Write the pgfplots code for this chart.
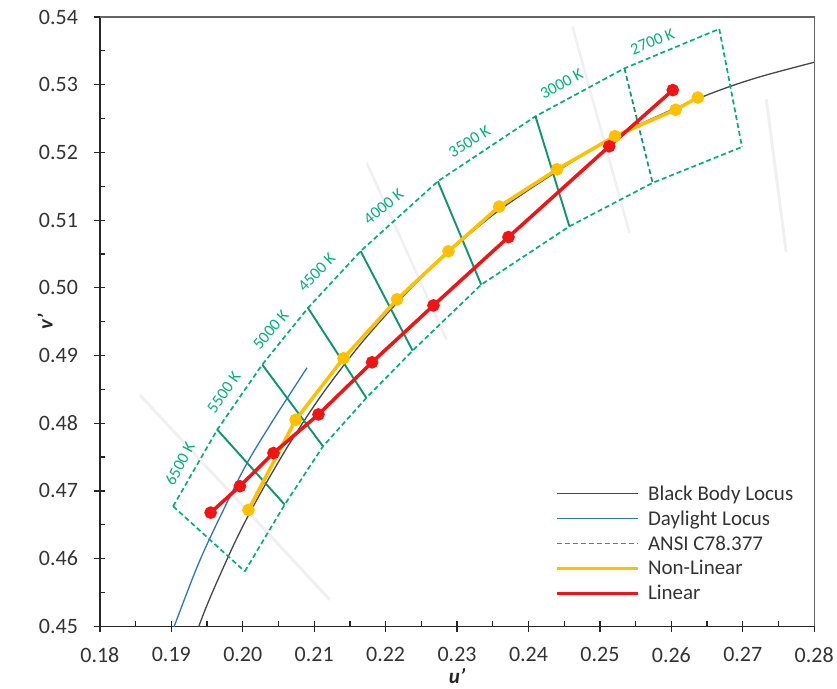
\documentclass[border=0pt]{standalone}
\usepackage{pgfplots}
\pgfplotsset{compat=1.18}
\usepackage{fontspec}
\setmainfont{Carlito}
\usetikzlibrary{calc}
\definecolor{ansi}{RGB}{0,176,122}
\definecolor{ansid}{RGB}{10,150,110}
\definecolor{bbl}{RGB}{70,70,70}
\definecolor{dayl}{RGB}{46,117,182}
\definecolor{nonlin}{RGB}{255,192,0}
\definecolor{lin}{RGB}{240,20,20}
\definecolor{frame}{RGB}{100,100,100}
\definecolor{faint}{RGB}{240,240,240}

\begin{document}
\begin{tikzpicture}
\begin{axis}[
  name=ax, scale only axis, width=715bp, height=610bp,
  xmin=0.18, xmax=0.28, ymin=0.45, ymax=0.54,
  axis x line*=bottom, axis y line*=left,
  axis line style={-, black!85, line width=1.2bp},
  xtick={0.18,0.19,0.20,0.21,0.22,0.23,0.24,0.25,0.26,0.27,0.28},
  ytick={0.45,0.46,0.47,0.48,0.49,0.50,0.51,0.52,0.53,0.54},
  extra x ticks={0.185,0.195,0.205,0.215,0.225,0.235,0.245,0.255,0.265,0.275},
  extra x tick labels={},
  extra x tick style={tick align=inside, major tick length=5bp},
  extra y ticks={0.455,0.465,0.475,0.485,0.495,0.505,0.515,0.525,0.535},
  extra y tick labels={},
  extra y tick style={tick align=inside, major tick length=5bp},
  tick align=center, major tick length=11bp,
  tick style={black!85, line width=1.2bp},
  /pgf/number format/assume math mode=true,
  xticklabel={\pgfmathprintnumber[fixed, fixed zerofill, precision=2]{\tick}},
  yticklabel={\pgfmathprintnumber[fixed, fixed zerofill, precision=2]{\tick}},
  tick label style={font=\fontsize{22bp}{26bp}\selectfont, text=black!80},
  xticklabel style={yshift=-12bp},
  yticklabel style={xshift=-13bp},
  legend style={
    at={(rel axis cs:0.6378,0.233)}, anchor=north west,
    draw=none, fill=none,
    font=\fontsize{21bp}{24bp}\selectfont,
    row sep=7bp, column sep=7bp, inner sep=0pt,
    nodes={inner sep=1bp, text=black!80},
  },
  legend cell align=left,
  legend image code/.code={\draw[#1] (0bp,0bp) -- (81bp,0bp);},
]
% faint background iso-temperature streaks
\addplot[faint, line width=3bp, forget plot] coordinates {(0.18559,0.48419) (0.21217,0.45394)};
\addplot[faint, line width=2.5bp, forget plot] coordinates {(0.21734,0.51849) (0.22853,0.49235)};
\addplot[faint, line width=2.5bp, forget plot] coordinates {(0.24615,0.53858) (0.25413,0.50815)};
\addplot[faint, line width=3bp, forget plot] coordinates {(0.27329,0.52785) (0.27608,0.50524)};
% Black body locus
\addplot[bbl, line width=1.3bp, smooth] coordinates {
 (0.1904,0.4399) (0.1946,0.4521) (0.1981,0.4606) (0.2004,0.4656) (0.2033,0.4712)
 (0.2069,0.4776) (0.2114,0.4847) (0.2173,0.4927) (0.2251,0.5016) (0.2357,0.5113)
 (0.2505,0.5214) (0.2625,0.5274) (0.2722,0.5311) (0.2885,0.5356) };
\addlegendentry{Black Body Locus}
% Daylight locus
\addplot[dayl, line width=1.3bp, smooth] coordinates {
 (0.18755,0.44193) (0.1935,0.4585) (0.1978,0.4683) (0.2007,0.4743) (0.2044,0.4807) (0.2090,0.4882) };
\addlegendentry{Daylight Locus}
% ANSI C78.377 quadrangles
\addplot[ansi, line width=1.7bp, dash pattern=on 5bp off 3bp] coordinates {
 (0.19025,0.46773) (0.19643,0.47905) (0.20273,0.48866) (0.20913,0.49703) (0.21650,0.50542)
 (0.22731,0.51573) (0.24098,0.52533) (0.25343,0.53241) (0.26671,0.53824) };
\addlegendentry{ANSI C78.377}
\addplot[ansi, line width=1.7bp, dash pattern=on 5bp off 3bp, forget plot] coordinates {
 (0.20028,0.45812) (0.20587,0.46798) (0.21123,0.47659) (0.21730,0.48374) (0.22378,0.49072)
 (0.23338,0.50047) (0.24573,0.50908) (0.25738,0.51550) (0.26989,0.52081) };
\addplot[ansi, line width=1.7bp, dash pattern=on 5bp off 3bp, forget plot] coordinates {(0.19025,0.46773) (0.20028,0.45812)};
\addplot[ansid, line width=1.9bp, forget plot] coordinates {(0.19643,0.47905) (0.20587,0.46798)};
\addplot[ansid, line width=1.9bp, forget plot] coordinates {(0.20273,0.48866) (0.21123,0.47659)};
\addplot[ansid, line width=1.9bp, forget plot] coordinates {(0.20913,0.49703) (0.21730,0.48374)};
\addplot[ansid, line width=1.9bp, forget plot] coordinates {(0.21650,0.50542) (0.22378,0.49072)};
\addplot[ansid, line width=1.9bp, forget plot] coordinates {(0.22731,0.51573) (0.23338,0.50047)};
\addplot[ansid, line width=1.9bp, forget plot] coordinates {(0.24098,0.52533) (0.24573,0.50908)};
\addplot[ansid, line width=1.7bp, dash pattern=on 5bp off 3bp, forget plot] coordinates {(0.25343,0.53241) (0.25738,0.51550)};
\addplot[ansi, line width=1.7bp, dash pattern=on 5bp off 3bp, forget plot] coordinates {(0.26671,0.53824) (0.26989,0.52081)};
% Non-linear
\addplot[nonlin, line width=3.5bp, mark=*, mark size=4.5bp, mark options={solid, fill=nonlin, draw=nonlin}] coordinates {
 (0.2008,0.4672) (0.2074,0.4805) (0.2141,0.4896) (0.2216,0.4983) (0.2288,0.5054)
 (0.2359,0.5120) (0.2440,0.5175) (0.2521,0.5224) (0.2606,0.5263) (0.2637,0.5281) };
\addlegendentry{Non-Linear}
% Linear
\addplot[lin, line width=3.5bp, mark=*, mark size=4.5bp, mark options={solid, fill=lin, draw=lin}] coordinates {
 (0.1955,0.4668) (0.1996,0.4707) (0.2043,0.4756) (0.2106,0.4813) (0.2181,0.4890)
 (0.2267,0.4974) (0.2372,0.5075) (0.2513,0.5209) (0.2602,0.5292) };
\addlegendentry{Linear}
% CCT labels
\begin{scope}[every node/.style={text=ansi, font=\fontsize{16.5bp}{18bp}\selectfont, inner sep=0pt}]
\node[rotate=62] at (axis cs:0.19119,0.47403) {6500 K};
\node[rotate=55] at (axis cs:0.19734,0.48452) {5500 K};
\node[rotate=50] at (axis cs:0.20392,0.49383) {5000 K};
\node[rotate=46] at (axis cs:0.21035,0.50225) {4500 K};
\node[rotate=39] at (axis cs:0.21972,0.51200) {4000 K};
\node[rotate=32] at (axis cs:0.23175,0.52160) {3500 K};
\node[rotate=28] at (axis cs:0.24462,0.53016) {3000 K};
\node[rotate=22] at (axis cs:0.25734,0.53637) {2700 K};
\end{scope}
\end{axis}
\draw[frame, line width=1.3bp] (ax.north west) -- (ax.north east) -- (ax.south east);
\node[font=\fontsize{21bp}{24bp}\selectfont\bfseries\itshape, text=black!85] at ($(ax.south)+(0,-50bp)$) {u'};
\node[rotate=90, font=\fontsize{21bp}{24bp}\selectfont\bfseries\itshape, text=black!85] at ($(ax.west)+(-55bp,0)$) {v'};
\path ($(ax.south west)+(-100bp,-62bp)$) rectangle ($(ax.north east)+(22bp,17bp)$);
\end{tikzpicture}
\end{document}
